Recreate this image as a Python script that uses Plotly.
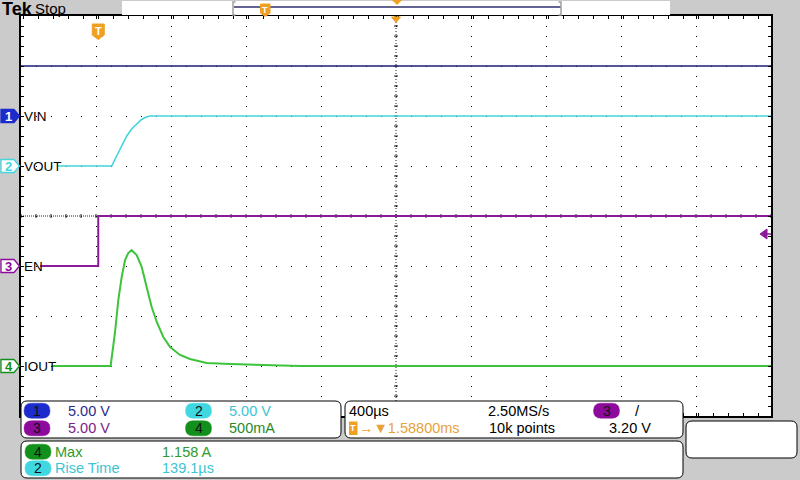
import plotly.graph_objects as go

PLOT_L, PLOT_R, PLOT_T, PLOT_B = 21, 771, 16, 416
W, H = PLOT_R - PLOT_L, PLOT_B - PLOT_T
GRAY = "#cbcbcb"
ORANGE = "#f0a020"
FONT = "Liberation Sans"
CH_COLORS = ["#1e1e7a", "#44d4dc", "#8c1a98", "#3cc43c"]
BADGE_COLORS = ["#1c2ccc", "#40d8e0", "#8e0a9c", "#12901c"]
TEXT_COLORS = ["#2c2c8c", "#3cc4d4", "#7c2288", "#2a8a2a"]

# time base: 400 us/div, trigger at t=0, horizontal position 1.588 ms
T_LEFT, T_RIGHT, T_CENTER, T_DIV = -412, 3588, 1588, 400

# channels: units per division, ground marker position (divisions from centre)
CH_NAMES = ["VIN", "VOUT", "EN", "IOUT"]
CH_SCALE = [5.0, 5.0, 5.0, 0.5]
CH_GROUND = [2, 1, -1, -3]
SCALE_TEXT = ["5.00 V", "5.00 V", "5.00 V", "500mA"]
TRIG_LEVEL = 3.2

vin_t = [-412, 100, 140, 280, 320, 3588]
vin_v = [5.0, 5.0, 4.93, 4.95, 5.0, 5.0]

vout_t = [-215, 72, 98, 125, 152, 178, 205, 228, 249, 276, 3588]
vout_v = [0.0, 0.0, 1.0, 2.0, 3.0, 3.7, 4.2, 4.6, 4.85, 5.0, 5.0]

en_t = [-310, 0, 0, 3588]
en_v = [0.0, 0.0, 5.0, 5.0]

iout_t = [-247, 66, 89, 107, 125, 143, 160, 178, 205, 232, 258, 285, 312,
          347, 383, 436, 489, 578, 703, 845, 1076, 3588]
iout_a = [0.0, 0.0, 0.33, 0.66, 0.89, 1.06, 1.13, 1.158, 1.11, 0.99, 0.79,
          0.59, 0.44, 0.29, 0.19, 0.11, 0.07, 0.03, 0.02, 0.013, 0.0, 0.0]

MEAS = [("4", "Max", "1.158 A"), ("2", "Rise Time", "139.1µs")]


def px(x):
    return (x - PLOT_L) / W


def py(y):
    return (PLOT_B - y) / H


def poly(points):
    return "M " + " L ".join(f"{px(x):.5f},{py(y):.5f}" for x, y in points) + " Z"


def rrect(x0, y0, x1, y1, r):
    pts = [
        ("M", x0 + r, y0), ("L", x1 - r, y0), ("Q", x1, y0, x1, y0 + r),
        ("L", x1, y1 - r), ("Q", x1, y1, x1 - r, y1), ("L", x0 + r, y1),
        ("Q", x0, y1, x0, y1 - r), ("L", x0, y0 + r), ("Q", x0, y0, x0 + r, y0),
    ]
    out = []
    for p in pts:
        xy = p[1:]
        coords = " ".join(f"{px(xy[i]):.5f},{py(xy[i + 1]):.5f}" for i in range(0, len(xy), 2))
        out.append(f"{p[0]} {coords}")
    return " ".join(out) + " Z"


def ch_range(i):
    return [(-4 - CH_GROUND[i]) * CH_SCALE[i], (4 - CH_GROUND[i]) * CH_SCALE[i]]


def ground_px(i):
    return (PLOT_T + PLOT_B) / 2 - CH_GROUND[i] * H / 8


fig = go.Figure()
series = [(vin_t, vin_v, 1.6), (vout_t, vout_v, 1.6), (en_t, en_v, 2), (iout_t, iout_a, 2)]
for i, (t, v, w) in enumerate(series):
    fig.add_trace(go.Scatter(
        x=t, y=v, mode="lines", yaxis="y" if i == 0 else f"y{i + 1}",
        line=dict(color=CH_COLORS[i], width=w), hoverinfo="skip", name=CH_NAMES[i],
    ))

shapes = []
annotations = []


def text(s, x, y, color="black", size=14.5, xanchor="left", **kw):
    annotations.append(dict(
        text=s, x=px(x), y=py(y), xref="paper", yref="paper", showarrow=False,
        xanchor=xanchor, yanchor="middle", font=dict(family=FONT, size=size, color=color),
        borderpad=0, **kw,
    ))


# centre crosshair with small ticks
shapes.append(dict(type="line", xref="x", yref="paper", x0=T_CENTER, x1=T_CENTER, y0=0, y1=1,
                   line=dict(color="#222", width=1, dash="1px,2px"), layer="between"))
shapes.append(dict(type="line", xref="paper", yref="y", x0=0, x1=1, y0=-10, y1=-10,
                   line=dict(color="#222", width=1, dash="1px,1px"), layer="between"))
hticks = " ".join(f"M {t},-2 L {t},2" for t in range(T_LEFT, T_RIGHT + 1, 80))
shapes.append(dict(type="path", xref="x", yref="y", ysizemode="pixel", yanchor=-10,
                   path=hticks, line=dict(color="#222", width=1), layer="between"))
vticks = " ".join(f"M -2,{v} L 2,{v}" for v in range(-30, 11))
shapes.append(dict(type="path", xref="x", yref="y", xsizemode="pixel", xanchor=T_CENTER,
                   path=vticks, line=dict(color="#222", width=1), layer="between"))

# channel ground markers and labels
for i in range(4):
    gy = ground_px(i)
    filled = i == 0
    shapes.append(dict(
        type="path", xref="paper", yref="paper",
        path=poly([(1, gy - 6.5), (14, gy - 6.5), (19.5, gy), (14, gy + 6.5), (1, gy + 6.5)]),
        fillcolor=BADGE_COLORS[i] if filled else "white",
        line=dict(color=BADGE_COLORS[i], width=1.3),
    ))
    text(f"<b>{i + 1}</b>", 8.5, gy + 0.5, color="white" if filled else BADGE_COLORS[i],
         size=13, xanchor="center")
    text(CH_NAMES[i], 23, gy, size=13.5)

# trigger level arrow (channel 3)
ty = ground_px(2) - TRIG_LEVEL / CH_SCALE[2] * H / 8
shapes.append(dict(type="path", xref="paper", yref="paper",
                   path=poly([(760, ty), (767, ty - 5), (767, ty + 5)]),
                   fillcolor=CH_COLORS[2], line=dict(color=CH_COLORS[2], width=1)))
shapes.append(dict(type="line", xref="paper", yref="paper", x0=px(766), x1=px(771), y0=py(ty), y1=py(ty),
                   line=dict(color=CH_COLORS[2], width=1.5)))

# trigger position marker
tx = PLOT_L + (0 - T_LEFT) / (T_RIGHT - T_LEFT) * W
shapes.append(dict(type="path", xref="paper", yref="paper",
                   path=poly([(tx - 6, 24), (tx + 6, 24), (tx + 6, 35), (tx, 39.5), (tx - 6, 35)]),
                   fillcolor=ORANGE, line=dict(color=ORANGE, width=1)))
text("<b>T</b>", tx, 31, color="white", size=11, xanchor="center")
# expansion point triangle
cx = PLOT_L + W / 2
shapes.append(dict(type="path", xref="paper", yref="paper",
                   path=poly([(cx - 4.5, 17), (cx + 4.5, 17), (cx, 22.5)]),
                   fillcolor=ORANGE, line=dict(color=ORANGE, width=1)))

# top record bar
shapes.append(dict(type="rect", xref="paper", yref="paper", x0=px(122), x1=px(670), y0=py(1), y1=py(15),
                   fillcolor="white", line=dict(width=0)))
shapes.append(dict(type="line", xref="paper", yref="paper", x0=px(234), x1=px(561), y0=py(7), y1=py(7),
                   line=dict(color="#30306e", width=1.5)))
for bx, d in [(233, 2.5), (561, -2.5)]:
    shapes.append(dict(type="path", xref="paper", yref="paper",
                       path=f"M {px(bx + d)},{py(2)} L {px(bx)},{py(2)} L {px(bx)},{py(15)} L {px(bx + d)},{py(15)}",
                       line=dict(color="#a0a0a0", width=1.5)))
shapes.append(dict(type="path", xref="paper", yref="paper",
                   path=poly([(260.5, 4), (270, 4), (270, 13), (265.2, 16.5), (260.5, 13)]),
                   fillcolor=ORANGE, line=dict(color=ORANGE, width=1)))
text("<b>T</b>", 265.3, 10, color="white", size=9, xanchor="center")
shapes.append(dict(type="path", xref="paper", yref="paper",
                   path=poly([(392.5, 0), (401.5, 0), (397, 4.5)]),
                   fillcolor=ORANGE, line=dict(color=ORANGE, width=1)))
text("<b>Tek</b>", 0.5, 9, size=18)
text("Stop", 34, 8.5, size=15)

# readout panels
for box in [(21, 401, 341, 438), (345, 401, 683, 438), (21, 441, 683, 478), (686, 421, 797, 458)]:
    shapes.append(dict(type="path", xref="paper", yref="paper", path=rrect(*box, 6),
                       fillcolor="white", line=dict(color="black", width=1)))


def badge(num, cx, cy, color):
    shapes.append(dict(type="path", xref="paper", yref="paper",
                       path=rrect(cx - 13, cy - 7.5, cx + 13, cy + 7.5, 7.5),
                       fillcolor=color, line=dict(color=color, width=0.5)))
    text(num, cx, cy, color="#111", size=14, xanchor="center")


for i in range(4):
    bx = 37 if i in (0, 2) else 198.5
    by = 410.7 if i < 2 else 428.3
    badge(str(i + 1), bx, by, BADGE_COLORS[i])
    text(SCALE_TEXT[i], bx + 29.5, by, color=TEXT_COLORS[i])

for k, (num, name, val) in enumerate(MEAS):
    ch = int(num) - 1
    y = 451.7 if k == 0 else 468.3
    color = "#2e9a2e" if ch == 3 else TEXT_COLORS[ch]
    badge(num, 38, y, BADGE_COLORS[ch])
    text(name, 54, y, color=color)
    text(val, 161, y, color=color)

text("400µs", 348, 410.7)
text("2.50MS/s", 487, 410.7)
badge("3", 606.5, 410.7, BADGE_COLORS[2])
text("/", 634, 410.7, size=15)
shapes.append(dict(type="rect", xref="paper", yref="paper", x0=px(349), x1=px(357.5), y0=py(421.5), y1=py(435),
                   fillcolor=ORANGE, line=dict(width=0)))
text("<b>T</b>", 353.2, 428.3, color="white", size=9, xanchor="center")
text("→▼1.58800ms", 357.5, 428.3, color="#e8a23a")
text("10k points", 487.5, 428.3)
text("3.20 V", 607.5, 428.3)

axis_common = dict(showticklabels=False, zeroline=False, fixedrange=True)
layout_axes = dict(
    xaxis=dict(range=[T_LEFT, T_RIGHT], tick0=T_CENTER, dtick=T_DIV, showgrid=True,
               gridcolor="black", gridwidth=1, griddash="1px,9px",
               ticks="inside", ticklen=3, tickcolor="black",
               minor=dict(dtick=T_DIV / 5, ticks="inside", ticklen=3, tickcolor="black", showgrid=False),
               showline=True, linecolor="black", linewidth=1.5, mirror="ticks", **axis_common),
    yaxis=dict(range=ch_range(0), tick0=0, dtick=CH_SCALE[0], showgrid=True,
               gridcolor="black", gridwidth=1, griddash="1px,14px",
               ticks="inside", ticklen=3, tickcolor="black",
               minor=dict(dtick=CH_SCALE[0] / 5, ticks="inside", ticklen=3, tickcolor="black", showgrid=False),
               showline=True, linecolor="black", linewidth=1.5, mirror="ticks", **axis_common),
)
for i in range(1, 4):
    layout_axes[f"yaxis{i + 1}"] = dict(range=ch_range(i), overlaying="y", visible=False, **axis_common)

fig.update_layout(
    width=800, height=480, margin=dict(l=PLOT_L, r=800 - PLOT_R, t=PLOT_T, b=480 - PLOT_B),
    paper_bgcolor=GRAY, plot_bgcolor="white", showlegend=False, hovermode=False,
    shapes=shapes, annotations=annotations, **layout_axes,
)
fig.write_html(
    "out.html",
    config={"displayModeBar": False},
    post_script="document.body.style.margin='0';document.body.style.overflow='hidden';",
)
